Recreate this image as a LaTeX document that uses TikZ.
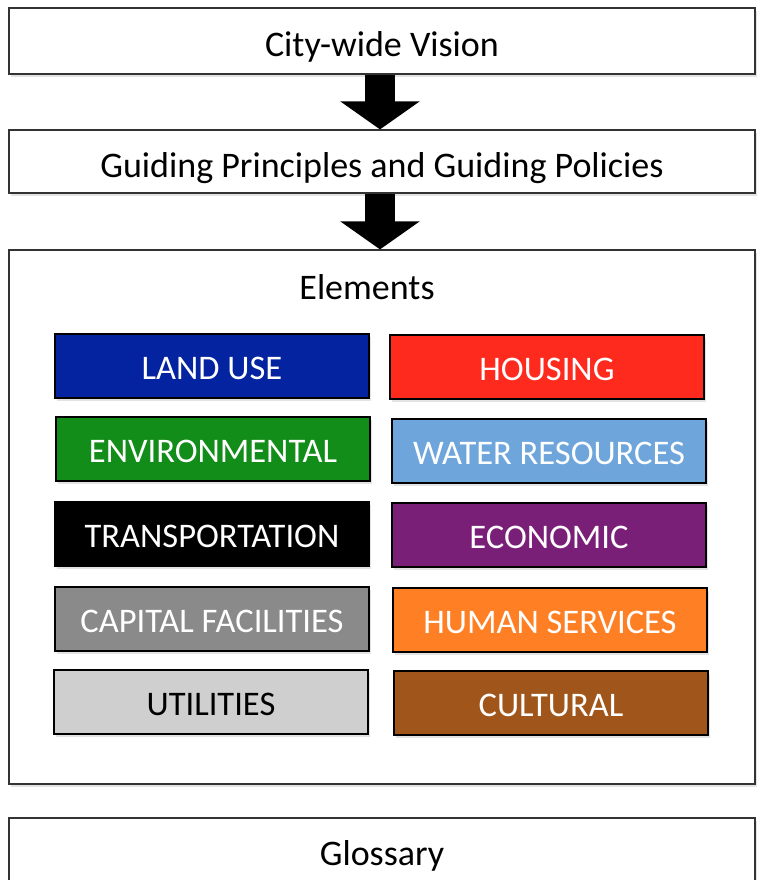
\documentclass[tikz,border=0pt]{standalone}
\usepackage{fontspec}
\setmainfont{Carlito}
\usepackage{tikz}
\usetikzlibrary{arrows.meta,shadows}
\definecolor{landuse}{HTML}{0323A0}
\definecolor{housing}{HTML}{FF2A1E}
\definecolor{environ}{HTML}{138D1A}
\definecolor{water}{HTML}{6EA6DC}
\definecolor{economic}{HTML}{7A1F78}
\definecolor{capital}{HTML}{8A8A8A}
\definecolor{human}{HTML}{FF7F24}
\definecolor{utility}{HTML}{CFCFCF}
\definecolor{cultural}{HTML}{A0561A}
\tikzset{
  softshadow/.style={drop shadow={shadow xshift=2pt,shadow yshift=-3pt,opacity=0.22}},
  frame/.style={draw=black!80, line width=1.2pt, fill=white, minimum width=746pt, softshadow,
    text height=31pt, text depth=0pt, font=\fontsize{36}{40}\selectfont},
  element/.style={draw=black, line width=1.5pt, minimum width=314pt, minimum height=64pt,
    text=white, softshadow, text height=27pt, text depth=0pt, font=\fontsize{34.5}{38}\selectfont},
  bigarrow/.style={line width=30pt, -{Triangle[width=78pt,length=28pt]}},
}

\begin{document}
\begin{tikzpicture}[x=1pt,y=-1pt]
\useasboundingbox (0,0) rectangle (756,880);
%%% The frames of the plan, top to bottom
\node[frame, minimum height=66pt] (vision) at (382, 41) {City-wide Vision};
\node[frame, minimum height=63pt] (guiding) at (382, 161.5) {Guiding Principles and Guiding Policies};
\node[frame, minimum height=534pt] (elements) at (382, 517) {};
\node[font=\fontsize{36}{40}\selectfont] (elemtitle) at (367, 287) {Elements};
\node[frame, minimum height=64pt] (glossary) at (382, 850) {Glossary};
%%%%%% The arrows between the frames
\draw[bigarrow] ([xshift=-2pt]vision.south) -- ([xshift=-2pt]guiding.north);
\draw[bigarrow] ([xshift=-2pt]guiding.south) -- ([xshift=-2pt]elements.north);
%%% The elements, left column
\node[element, fill=landuse] (landuse) at (212, 366) {LAND USE};
\node[element, fill=environ] (environ) at (213, 449) {ENVIRONMENTAL};
\node[element, fill=black] (transport) at (212, 534) {TRANSPORTATION};
\node[element, fill=capital] (capital) at (212, 619) {CAPITAL FACILITIES};
\node[element, fill=utility, text=black] (utility) at (211, 702) {UTILITIES};
%%% The elements, right column
\node[element, fill=housing] (housing) at (547, 367) {HOUSING};
\node[element, fill=water] (water) at (549, 451) {WATER RESOURCES};
\node[element, fill=economic] (economic) at (549, 535) {ECONOMIC};
\node[element, fill=human] (human) at (550, 620) {HUMAN SERVICES};
\node[element, fill=cultural] (cultural) at (551, 703) {CULTURAL};
\end{tikzpicture}
\end{document}
